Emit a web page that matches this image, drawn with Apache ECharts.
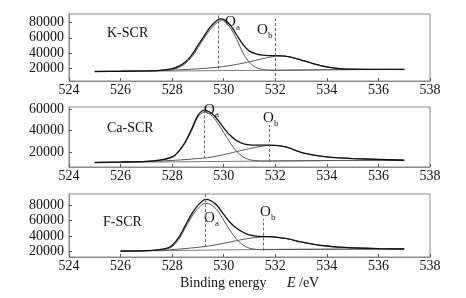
<!DOCTYPE html>
<html><head><meta charset="utf-8">
<script src="https://cdn.jsdelivr.net/npm/echarts@6/dist/echarts.min.js"></script>
<style>html,body{margin:0;padding:0;background:#fff}#c{width:466px;height:298px}</style>
</head><body><div id="c"></div>
<script>
// ---- Data (binding energy eV, intensity counts) ----
const xTicks = [524, 526, 528, 530, 532, 534, 536, 538];
const yTicks = [20000, 40000, 60000, 80000];
const panelNames = ['K-SCR', 'Ca-SCR', 'F-SCR'];

// K-SCR
const kX   = [525, 526, 527, 527.5, 528, 528.25, 528.5, 528.75, 529, 529.25, 529.5, 529.75, 529.9, 530, 530.25, 530.5, 530.75, 531, 531.25, 531.5, 531.75, 532, 532.25, 532.5, 532.75, 533, 533.5, 534, 534.5, 535, 536, 537];
const kEnv = [15700, 16000, 16600, 17300, 19500, 22500, 28000, 37000, 50000, 63000, 75000, 83000, 84800, 84200, 77000, 64000, 51000, 42500, 38800, 37200, 36600, 36500, 36300, 35300, 33300, 30800, 25800, 21700, 19500, 18700, 18500, 18400];
const kOa  = [15700, 16000, 16500, 17000, 18300, 20800, 25800, 34300, 47000, 60000, 72000, 80200, 82600, 82000, 73500, 58000, 40000, 27500, 21000, 18300, 17500, 17300, 17300, 17400, 17500, 17600, 17800, 18000, 18100, 18200, 18300, 18400];
const kOb  = [15700, 16000, 16600, 17000, 17500, 17800, 18200, 18700, 19200, 19800, 20500, 21400, 21900, 22300, 23500, 25000, 26700, 28500, 30500, 32500, 34300, 35600, 36000, 35300, 33300, 30800, 25800, 21700, 19500, 18700, 18500, 18400];
const kBg  = [15700, 15900, 16100, 16200, 16400, 16450, 16500, 16550, 16650, 16700, 16750, 16800, 16850, 16900, 16950, 17000, 17050, 17100, 17200, 17250, 17300, 17350, 17400, 17450, 17500, 17600, 17750, 17900, 18050, 18200, 18300, 18400];

// Ca-SCR
const caX   = [525, 526, 527, 527.5, 528, 528.25, 528.5, 528.75, 529, 529.25, 529.5, 529.75, 530, 530.25, 530.5, 530.75, 531, 531.25, 531.5, 531.75, 532, 532.25, 532.5, 533, 533.5, 534, 534.5, 535, 536, 537];
const caEnv = [10100, 10500, 11200, 12300, 15300, 20500, 29000, 41000, 54000, 59000, 56500, 50500, 42500, 35500, 30500, 27800, 26600, 26300, 26300, 26300, 26000, 25300, 24000, 19600, 17000, 15300, 14400, 13800, 13000, 12200];
const caOa  = [10100, 10500, 11100, 12000, 14800, 19800, 28000, 39500, 52500, 57500, 54500, 47500, 38000, 28500, 20500, 15300, 12700, 11800, 11500, 11500, 11500, 11600, 11600, 11700, 11800, 11900, 12000, 12050, 12100, 12200];
const caOb  = [10100, 10500, 11000, 11500, 12000, 12400, 12800, 13300, 13800, 14300, 15000, 16200, 17500, 18800, 20300, 21700, 23000, 24300, 25400, 26100, 26000, 25300, 24000, 19600, 17000, 15300, 14400, 13800, 13000, 12200];
const caBg  = [10100, 10300, 10500, 10600, 10700, 10750, 10800, 10850, 10900, 10950, 11000, 11050, 11100, 11150, 11200, 11250, 11300, 11350, 11400, 11450, 11500, 11550, 11600, 11700, 11800, 11900, 12000, 12050, 12100, 12200];

// F-SCR
const fX   = [526, 527, 527.5, 527.8, 528, 528.25, 528.5, 528.75, 529, 529.3, 529.5, 529.75, 530, 530.25, 530.5, 530.75, 531, 531.25, 531.5, 531.75, 532, 532.5, 533, 533.5, 534, 534.5, 535, 536, 537];
const fEnv = [20800, 21500, 22800, 24500, 28000, 38000, 53000, 68000, 79500, 87300, 85500, 79000, 68000, 57500, 50000, 45000, 41500, 40000, 39500, 39300, 38800, 36500, 32500, 29500, 27300, 25800, 25000, 24000, 23500];
const fOa  = [20800, 21300, 22300, 23500, 26500, 35500, 50000, 64500, 75500, 82300, 80500, 73500, 60500, 47000, 36000, 28500, 24500, 23000, 22600, 22600, 22700, 22800, 22900, 23000, 23100, 23200, 23300, 23400, 23500];
const fOb  = [20800, 21300, 21700, 22100, 22500, 23300, 24000, 24800, 25700, 26800, 27800, 29200, 30800, 32500, 34200, 35800, 37200, 38300, 39100, 39300, 38800, 36500, 32500, 29500, 27300, 25800, 25000, 24000, 23500];
const fBg  = [20800, 21100, 21300, 21400, 21500, 21600, 21700, 21800, 21900, 22000, 22100, 22200, 22300, 22400, 22500, 22600, 22700, 22800, 22900, 23000, 23050, 23100, 23200, 23250, 23300, 23350, 23400, 23450, 23500];

// peak positions (eV) and dashed-line extents
const peaksA = [529.8, 529.25, 529.3];
const peaksB = [532.0, 531.75, 531.55];
const dashA = [[19500, 91000], [14000, 61500], [26000, 94000]];
const dashB = [[3200, 85000], [10600, 45000], [21500, 62000]];

const panels = [
  {x: kX, env: kEnv, oa: kOa, ob: kOb, bg: kBg},
  {x: caX, env: caEnv, oa: caOa, ob: caOb, bg: caBg},
  {x: fX, env: fEnv, oa: fOa, ob: fOb, bg: fBg}
];

// ---- Layout ----
const grids = [
  {left: 69, right: 36, top: 14, height: 67, ymin: 3200, ymax: 91300},
  {left: 69, right: 36, top: 107, height: 60, ymin: 5900, ymax: 61900},
  {left: 69, right: 36, top: 194, height: 63, ymin: 13200, ymax: 94100}
];
const FONT = '"Liberation Serif", "DejaVu Serif", serif';
const axisColor = '#8a8a8a';

const zip = (a, b) => a.map((v, i) => [v, b[i]]);

const option = {
  animation: false,
  grid: grids.map(g => ({left: g.left, right: g.right, top: g.top, height: g.height, show: true, borderColor: axisColor, borderWidth: 1})),
  xAxis: grids.map((g, i) => ({
    type: 'value', gridIndex: i, min: 524, max: 538, interval: 2,
    axisLine: {lineStyle: {color: axisColor}},
    axisTick: {inside: true, length: 3, lineStyle: {color: '#555'}},
    splitLine: {show: false},
    axisLabel: {color: '#111', fontFamily: FONT, fontSize: 14, margin: 2, formatter: v => String(v)}
  })),
  yAxis: grids.map((g, i) => ({
    type: 'value', gridIndex: i, min: g.ymin, max: g.ymax,
    axisLine: {show: true, lineStyle: {color: axisColor}},
    axisTick: {show: true, inside: true, length: 3, customValues: yTicks, lineStyle: {color: '#555'}},
    splitLine: {show: false},
    axisLabel: {color: '#111', fontFamily: FONT, fontSize: 14, margin: 5, customValues: yTicks, formatter: v => String(v)}
  })),
  series: []
};

panels.forEach((p, i) => {
  const common = {type: 'line', xAxisIndex: i, yAxisIndex: i, showSymbol: false, smooth: 0.3, silent: true};
  option.series.push(Object.assign({}, common, {name: 'bg' + i, data: zip(p.x, p.bg), lineStyle: {color: '#777', width: 1}}));
  option.series.push(Object.assign({}, common, {name: 'ob' + i, data: zip(p.x, p.ob), lineStyle: {color: '#555', width: 1}}));
  option.series.push(Object.assign({}, common, {name: 'oa' + i, data: zip(p.x, p.oa), lineStyle: {color: '#555', width: 1}}));
  option.series.push(Object.assign({}, common, {name: 'env' + i, data: zip(p.x, p.env), lineStyle: {color: '#111', width: 1.3},
    markLine: {silent: true, symbol: 'none', label: {show: false},
      lineStyle: {color: '#666', type: [3, 2], width: 1},
      data: [
        [{coord: [peaksA[i], dashA[i][0]]}, {coord: [peaksA[i], dashA[i][1]]}],
        [{coord: [peaksB[i], dashB[i][0]]}, {coord: [peaksB[i], dashB[i][1]]}]
      ]}}));
});

// text annotations
const txt = (x, y, text, size, extra) => ({type: 'text', x: x, y: y, style: Object.assign({text: text, fontFamily: FONT, fontSize: size, fill: '#111', textAlign: 'left', textVerticalAlign: 'middle'}, extra || {})});
option.graphic = [
  txt(107, 33, panelNames[0], 14),
  txt(107, 128, panelNames[1], 14),
  txt(103, 222, panelNames[2], 14),
  // O_a / O_b labels
  txt(225, 22, 'O', 15), txt(236, 28, 'a', 9),
  txt(257, 30, 'O', 15), txt(268, 36, 'b', 9),
  txt(204, 110, 'O', 15), txt(215, 115, 'a', 9),
  txt(263, 118, 'O', 15), txt(274, 124, 'b', 9),
  txt(204, 218, 'O', 15), txt(215, 224, 'a', 9),
  txt(260, 212, 'O', 15), txt(271, 218, 'b', 9),
  // axis title
  txt(180, 283, 'Binding energy', 14),
  txt(287, 283, 'E', 14, {fontStyle: 'italic'}),
  txt(299, 283, '/eV', 14)
];

const chart = echarts.init(document.getElementById('c'), null, {renderer: 'canvas'});
chart.setOption(option);
</script></body></html>
